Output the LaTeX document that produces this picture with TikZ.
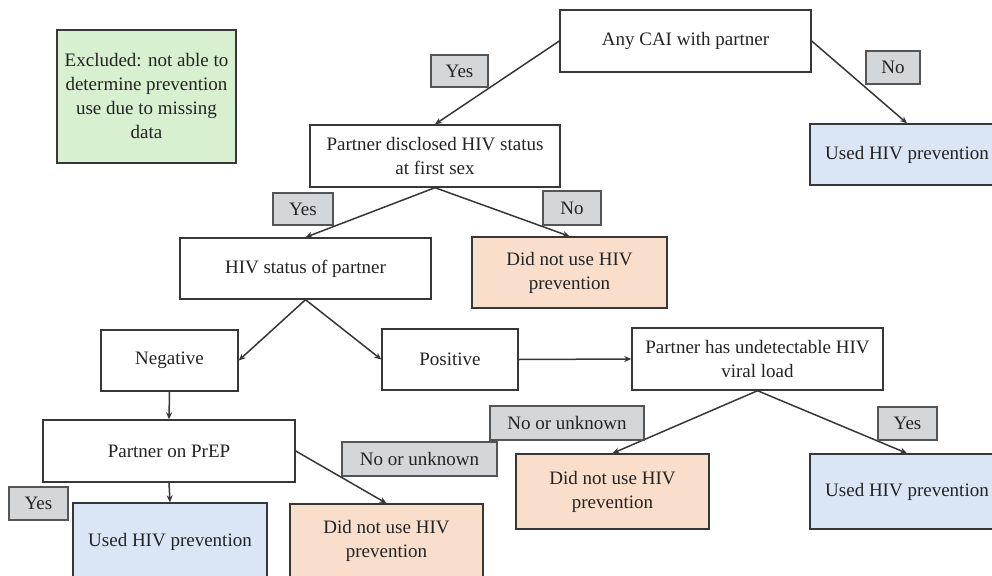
\documentclass[tikz,border=0pt]{standalone}
\usepackage{fontspec}
\setmainfont{Liberation Serif}
\usetikzlibrary{arrows.meta,calc}
\definecolor{greenfill}{RGB}{216,239,208}
\definecolor{bluefill}{RGB}{218,230,245}
\definecolor{salmonfill}{RGB}{250,222,204}
\definecolor{labelfill}{RGB}{211,215,217}
\definecolor{edgecol}{RGB}{55,55,55}
\definecolor{txt}{RGB}{35,35,35}
\tikzset{
  box/.style={draw=edgecol, line width=1.4pt, fill=white, inner sep=0pt, align=center, text=txt, font=\fontsize{19}{24}\selectfont},
  lbl/.style={draw=edgecol!85, line width=1.2pt, fill=labelfill, inner sep=0pt, text=txt, font=\fontsize{19}{24}\selectfont},
  conn/.style={draw=edgecol, line width=1.5pt, -{Stealth[length=7pt,width=6pt]}}
}
\begin{document}
\begin{tikzpicture}[x=1pt,y=-1pt]
\useasboundingbox (0,0) rectangle (992,575);
\clip (0,0) rectangle (992,575);
\fill[white] (0,0) rectangle (992,575);

% boxes
\node[box, fill=greenfill, minimum width=179, minimum height=133] (ex) at (146.5,96.5) {Excluded: not able to\\determine prevention\\use due to missing\\data};
\node[box, minimum width=251, minimum height=62] (cai) at (685.5,41) {Any CAI with partner};
\node[box, fill=bluefill, minimum width=194, minimum height=61] (u1) at (907,154.5) {Used HIV prevention};
\node[box, minimum width=250, minimum height=62] (pd) at (435,156) {Partner disclosed HIV status\\at first sex};
\node[box, minimum width=251, minimum height=61] (hs) at (305.5,268.5) {HIV status of partner};
\node[box, fill=salmonfill, minimum width=195, minimum height=71] (dn1) at (569.5,272.5) {Did not use HIV\\prevention};
\node[box, minimum width=137, minimum height=61] (neg) at (169.5,360.5) {Negative};
\node[box, minimum width=136, minimum height=61] (pos) at (450,359.5) {Positive};
\node[box, minimum width=251, minimum height=62] (und) at (757.5,359) {Partner has undetectable HIV\\viral load};
\node[box, minimum width=252, minimum height=62] (prep) at (169,451) {Partner on PrEP};
\node[box, fill=bluefill, minimum width=194, minimum height=77] (u2) at (170,541.5) {Used HIV prevention};
\node[box, fill=salmonfill, minimum width=193, minimum height=74] (dn2) at (386.5,541) {Did not use HIV\\prevention};
\node[box, fill=salmonfill, minimum width=193, minimum height=75] (dn3) at (612.5,491.5) {Did not use HIV\\prevention};
\node[box, fill=bluefill, minimum width=194, minimum height=75] (u3) at (907,491.5) {Used HIV prevention};

% connectors
\draw[conn] (cai.west) -- (pd.north);
\draw[conn] (cai.east) -- (u1.north);
\draw[conn] (pd.south) -- (hs.north);
\draw[conn] (pd.south) -- (dn1.north);
\draw[conn] (hs.south) -- (neg.east);
\draw[conn] (hs.south) -- (pos.west);
\draw[conn] (pos.east) -- (und.west);
\draw[conn] (neg.south) -- (prep.north);
\draw[conn] (prep.south) -- (u2.north);
\draw[conn] (prep.east) -- (dn2.north);
\draw[conn] (und.south) -- (dn3.north);
\draw[conn] (und.south) -- (u3.north);

% labels
\node[lbl, minimum width=57, minimum height=32] (l1) at (459.5,71) {Yes};
\node[lbl, minimum width=54, minimum height=33] (l2) at (893,67.5) {No};
\node[lbl, minimum width=60, minimum height=32] (l3) at (303,209) {Yes};
\node[lbl, minimum width=58, minimum height=34] (l4) at (572,208) {No};
\node[lbl, minimum width=154, minimum height=34] (l5) at (567,423) {No or unknown};
\node[lbl, minimum width=155, minimum height=34] (l6) at (419.5,459) {No or unknown};
\node[lbl, minimum width=59, minimum height=33] (l7) at (38.5,503.5) {Yes};
\node[lbl, minimum width=59, minimum height=33] (l8) at (907.5,423.5) {Yes};
\end{tikzpicture}
\end{document}
